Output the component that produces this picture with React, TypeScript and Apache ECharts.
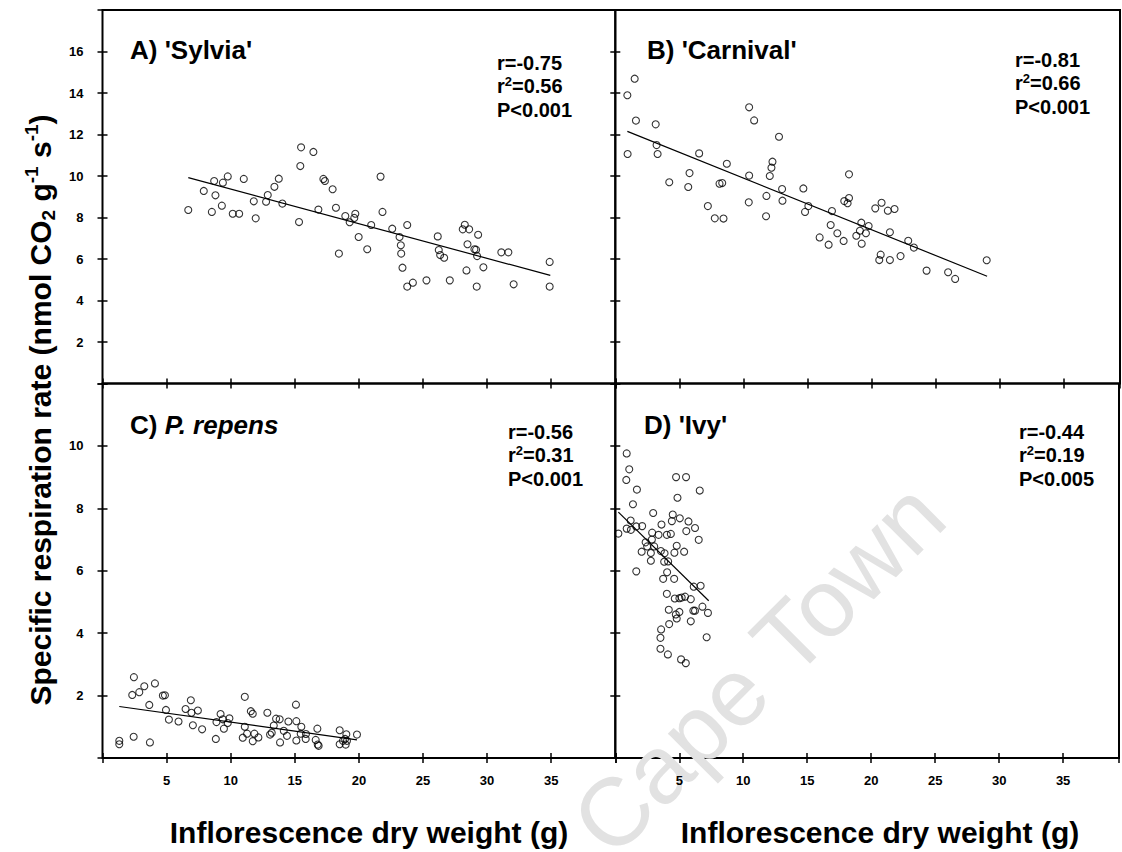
import React, { useEffect, useRef } from "react";
import * as echarts from "echarts";

// ---- Data (x = inflorescence dry weight g, y = respiration rate) ----
const sylvia: number[][] = [
  [6.69, 8.36], [7.9, 9.28], [8.71, 9.76], [8.81, 9.07], [8.53, 8.27], [9.31, 8.57], [9.39, 9.68],
  [9.77, 9.98], [10.16, 8.18], [10.66, 8.18], [11.02, 9.86], [11.8, 8.78], [11.95, 7.96], [12.76, 8.76],
  [12.89, 9.08], [13.41, 9.48], [13.75, 9.87], [14.03, 8.67], [15.33, 7.78], [15.43, 10.48], [15.49, 11.38],
  [16.45, 11.16], [16.84, 8.38], [17.23, 9.86], [17.35, 9.76], [17.95, 9.36], [18.21, 8.47], [18.44, 6.26],
  [18.94, 8.07], [19.28, 7.77], [19.64, 7.98], [19.72, 8.18], [19.98, 7.06], [20.65, 6.47], [20.96, 7.64],
  [21.69, 9.97], [21.84, 8.27], [22.6, 7.46], [23.17, 7.06], [23.27, 6.66], [23.3, 6.26], [23.4, 5.58],
  [23.77, 7.64], [23.77, 4.67], [24.21, 4.86], [25.27, 4.97], [26.15, 7.09], [26.23, 6.43], [26.34, 6.19],
  [26.65, 6.06], [27.09, 4.97], [28.1, 7.43], [28.26, 7.65], [28.6, 7.43], [28.47, 6.71], [28.39, 5.45],
  [29.01, 6.47], [29.14, 6.45], [29.22, 6.14], [29.3, 7.17], [29.19, 4.67], [29.71, 5.6], [31.11, 6.32],
  [31.66, 6.32], [32.07, 4.78], [34.88, 5.86], [34.88, 4.67],
];
const carnival: number[][] = [
  [0.94, 13.89], [1.51, 14.69], [1.61, 12.67], [0.96, 11.06], [3.15, 12.49], [3.22, 11.49], [3.3, 11.06],
  [4.21, 9.7], [5.79, 10.14], [5.69, 9.47], [6.54, 11.09], [7.22, 8.55], [7.76, 7.96], [8.44, 7.95],
  [8.13, 9.63], [8.34, 9.66], [8.7, 10.59], [10.41, 8.73], [10.44, 10.02], [10.44, 13.31], [10.83, 12.68],
  [11.76, 8.06], [11.79, 9.04], [12.05, 10.0], [12.18, 10.4], [12.26, 10.69], [12.77, 11.89], [13.01, 9.37],
  [13.04, 8.81], [14.67, 9.4], [14.8, 8.27], [15.06, 8.55], [15.94, 7.04], [16.64, 6.69], [16.8, 7.64],
  [16.9, 8.31], [17.32, 7.24], [17.81, 6.87], [17.86, 8.79], [18.12, 8.69], [18.23, 8.94], [18.23, 10.08],
  [18.8, 7.12], [19.08, 7.36], [19.19, 7.75], [19.22, 6.74], [19.55, 7.24], [19.76, 7.59], [20.28, 8.44],
  [20.59, 5.95], [20.7, 6.21], [20.77, 8.71], [21.26, 8.33], [21.42, 7.29], [21.42, 5.95], [21.78, 8.41],
  [22.25, 6.14], [22.85, 6.88], [23.29, 6.55], [24.28, 5.44], [25.96, 5.36], [26.51, 5.04], [28.97, 5.94],
];
const repens: number[][] = [
  [1.31, 0.55], [1.31, 0.44], [2.45, 2.59], [2.32, 2.02], [2.43, 0.68], [2.87, 2.11], [3.26, 2.3],
  [4.09, 2.39], [3.65, 1.7], [3.7, 0.5], [4.71, 2.0], [4.87, 2.01], [4.95, 1.54], [5.18, 1.23],
  [5.93, 1.17], [6.48, 1.57], [6.89, 1.85], [6.94, 1.45], [7.05, 1.05], [7.44, 1.52], [7.77, 0.92],
  [8.84, 0.61], [8.89, 1.15], [9.21, 1.41], [9.39, 1.24], [9.47, 0.94], [9.77, 1.12], [9.9, 1.27],
  [11.1, 1.96], [11.1, 1.0], [10.94, 0.65], [11.28, 0.78], [11.57, 1.5], [11.72, 1.42], [11.72, 0.54],
  [11.85, 0.78], [12.16, 0.66], [12.86, 1.45], [13.07, 0.75], [13.2, 0.81], [13.36, 1.04], [13.54, 1.26],
  [13.82, 1.24], [13.85, 0.5], [14.14, 0.87], [14.39, 0.71], [14.5, 1.17], [15.09, 1.71], [15.12, 1.18],
  [15.12, 0.56], [15.51, 1.0], [15.46, 0.78], [15.87, 0.77], [15.85, 0.61], [16.63, 0.58], [16.76, 0.94],
  [16.79, 0.43], [16.86, 0.39], [18.5, 0.89], [18.5, 0.44], [18.76, 0.55], [18.92, 0.61], [19.02, 0.76],
  [18.97, 0.43], [19.07, 0.55], [19.85, 0.75],
];
const ivy: number[][] = [
  [0.24, 7.19], [0.89, 9.76], [1.09, 9.25], [0.86, 8.91], [1.69, 8.6], [1.38, 8.13], [0.89, 7.35],
  [1.2, 7.61], [1.22, 7.31], [1.64, 7.42], [2.1, 7.43], [1.64, 5.98], [2.06, 6.61], [2.37, 6.91],
  [2.49, 6.78], [2.78, 6.57], [2.78, 6.32], [2.86, 7.0], [2.88, 7.22], [2.96, 7.85], [3.04, 6.78],
  [3.38, 7.15], [3.61, 7.48], [3.56, 6.63], [3.85, 6.56], [3.82, 6.29], [4.13, 6.3], [4.05, 5.95],
  [3.74, 5.74], [4.6, 5.74], [4.03, 7.15], [4.34, 7.18], [4.42, 7.59], [4.49, 7.8], [4.75, 9.0],
  [5.53, 9.0], [4.86, 8.34], [4.8, 6.8], [4.62, 6.58], [5.04, 7.68], [5.38, 6.61], [5.55, 7.27],
  [5.72, 7.58], [6.23, 7.37], [6.52, 6.99], [6.6, 8.57], [4.03, 5.26], [4.65, 5.11], [5.01, 5.12],
  [5.19, 5.14], [5.45, 5.17], [5.9, 5.09], [6.13, 5.49], [6.67, 5.52], [4.18, 4.75], [4.73, 4.6],
  [4.8, 4.47], [5.01, 4.68], [6.1, 4.72], [6.23, 4.72], [6.81, 4.85], [7.24, 4.65], [5.9, 4.38],
  [4.21, 4.29], [3.58, 4.12], [3.53, 3.85], [7.14, 3.87], [3.53, 3.5], [4.11, 3.32], [5.14, 3.16],
  [5.51, 3.04],
];
// Fitted regression lines (end points)
const fitSylvia: number[][] = [[6.69, 9.92], [34.93, 5.21]];
const fitCarnival: number[][] = [[0.94, 12.15], [29.0, 5.17]];
const fitRepens: number[][] = [[1.31, 1.65], [19.85, 0.58]];
const fitIvy: number[][] = [[0.24, 7.88], [7.3, 5.04]];

const panelNames = ["A) 'Sylvia'", "B) 'Carnival'", "C) {i|P. repens}", "D) 'Ivy'"];
const statR = ["-0.75", "-0.81", "-0.56", "-0.44"];
const statR2 = ["0.56", "0.66", "0.31", "0.19"];
const statP = ["P<0.001", "P<0.001", "P<0.001", "P<0.005"];
const yMaxTop = 18;
const yMaxBottom = 12;
const xTitle = "Inflorescence dry weight (g)";
const yTitle = "Specific respiration rate (nmol CO{sub|2} g{sup|-1} s{sup|-1})";

const FONT = "'Liberation Sans', Arial, Helvetica, sans-serif";

export default function App() {
  const ref = useRef<HTMLDivElement>(null);
  useEffect(() => {
    if (!ref.current) return;
    const chart = echarts.init(ref.current, undefined, { renderer: "svg" });

    const L1 = 102.5, L2 = 615.3, R2 = 1120, T = 10, MID = 383.5, B = 758;
    const pxPerUnit = (L2 - L1) / 40;
    const xMaxRight = (R2 - L2) / pxPerUnit;
    const grids = [
      { left: L1, top: T, width: L2 - L1, height: MID - T },
      { left: L2, top: T, width: R2 - L2, height: MID - T },
      { left: L1, top: MID, width: L2 - L1, height: B - MID },
      { left: L2, top: MID, width: R2 - L2, height: B - MID },
    ];
    const datasets = [sylvia, carnival, repens, ivy];
    const fits = [fitSylvia, fitCarnival, fitRepens, fitIvy];

    const tick = { show: true, inside: true, length: 5, lineStyle: { color: "#000", width: 1.5 } };
    const xAxes: any[] = [];
    const yAxes: any[] = [];
    grids.forEach((_, i) => {
      const xmax = i % 2 === 0 ? 40 : xMaxRight;
      const ymax = i < 2 ? yMaxTop : yMaxBottom;
      const bottomRow = i >= 2;
      const leftCol = i % 2 === 0;
      const xBase = {
        gridIndex: i, type: "value", min: 0, max: xmax, interval: 5,
        axisLine: { show: false }, axisTick: tick, splitLine: { show: false },
      };
      xAxes.push({
        ...xBase, position: "bottom",
        axisLabel: {
          show: bottomRow, margin: 16, color: "#000", fontWeight: "bold", fontSize: 13, fontFamily: FONT,
          formatter: (v: number) => (v > 0 && v < 40 && v % 5 === 0 ? String(v) : ""),
        },
      });
      xAxes.push({ ...xBase, position: "top", axisLabel: { show: false } });
      const yBase = {
        gridIndex: i, type: "value", min: 0, max: ymax, interval: 2,
        axisLine: { show: false }, axisTick: tick, splitLine: { show: false },
      };
      yAxes.push({
        ...yBase, position: "left",
        axisLabel: {
          show: leftCol, margin: 19, color: "#000", fontWeight: "bold", fontSize: 13, fontFamily: FONT,
          formatter: (v: number) => (v > 0 && v < ymax ? String(v) : ""),
        },
      });
      yAxes.push({ ...yBase, position: "right", axisLabel: { show: false } });
    });

    const series: any[] = [];
    datasets.forEach((d, i) => {
      series.push({
        type: "scatter", xAxisIndex: 2 * i, yAxisIndex: 2 * i, data: d,
        symbol: "circle", symbolSize: 7,
        itemStyle: { color: "rgba(0,0,0,0)", borderColor: "#000", borderWidth: 1.1 },
        silent: true, z: 3,
      });
      series.push({
        type: "line", xAxisIndex: 2 * i, yAxisIndex: 2 * i, data: fits[i],
        showSymbol: false, symbol: "none", lineStyle: { color: "#000", width: 1.2 }, silent: true, z: 2,
      });
    });

    const labelPos = [[130, 50], [647, 50], [130, 425], [644, 425]];
    const statPos = [[497, 51], [1015, 48], [508, 420], [1019, 420]];
    const graphics: any[] = [
      {
        type: "text", x: 758, y: 668, rotation: Math.PI / 4, z: 0, silent: true,
        style: {
          text: "Cape Town", fill: "#e2e2e2", fontSize: 96, fontFamily: FONT,
          textAlign: "center", textVerticalAlign: "middle",
        },
      },
    ];
    labelPos.forEach((p, i) => {
      graphics.push({
        type: "text", x: p[0], y: p[1], z: 10,
        style: {
          text: panelNames[i], fill: "#000", fontSize: 26, fontWeight: "bold", fontFamily: FONT,
          textAlign: "left", textVerticalAlign: "middle",
          rich: { i: { fontSize: 26, fontWeight: "bold", fontStyle: "italic", fontFamily: FONT, fill: "#000" } },
        },
      });
    });
    statPos.forEach((p, i) => {
      graphics.push({
        type: "text", x: p[0], y: p[1], z: 10,
        style: {
          text: `r=${statR[i]}\nr{sup|2}=${statR2[i]}\n${statP[i]}`,
          fill: "#000", fontSize: 20, fontWeight: "bold", fontFamily: FONT, lineHeight: 23.5,
          textAlign: "left", textVerticalAlign: "top",
          rich: {
            sup: { fontSize: 13, fontWeight: "bold", fontFamily: FONT, fill: "#000", lineHeight: 8, verticalAlign: "top" },
          },
        },
      });
    });
    [369, 880].forEach((cx) => {
      graphics.push({
        type: "text", x: cx, y: 833, z: 10, scaleX: 1.035,
        style: {
          text: xTitle, fill: "#000", fontSize: 29, fontWeight: "bold", fontFamily: FONT,
          textAlign: "center", textVerticalAlign: "middle",
        },
      });
    });
    graphics.push({
      type: "text", x: 40, y: 410, rotation: Math.PI / 2, z: 10,
      style: {
        text: yTitle, fill: "#000", fontSize: 30, fontWeight: "bold", fontFamily: FONT, lineHeight: 36,
        textAlign: "center", textVerticalAlign: "middle",
        rich: {
          sub: { fontSize: 19, fontWeight: "bold", fontFamily: FONT, fill: "#000", lineHeight: 15, verticalAlign: "bottom" },
          sup: { fontSize: 19, fontWeight: "bold", fontFamily: FONT, fill: "#000", lineHeight: 15, verticalAlign: "top" },
        },
      },
    });

    chart.setOption({
      animation: false,
      backgroundColor: "#fff",
      grid: grids.map((g) => ({ ...g, show: true, borderColor: "#000", borderWidth: 2, backgroundColor: "transparent", containLabel: false })),
      xAxis: xAxes,
      yAxis: yAxes,
      series,
      graphic: graphics,
    });
    return () => chart.dispose();
  }, []);
  return (
    <div
      ref={ref}
      style={{ position: "fixed", left: 0, top: 0, width: 1122, height: 852, background: "#fff" }}
    />
  );
}
